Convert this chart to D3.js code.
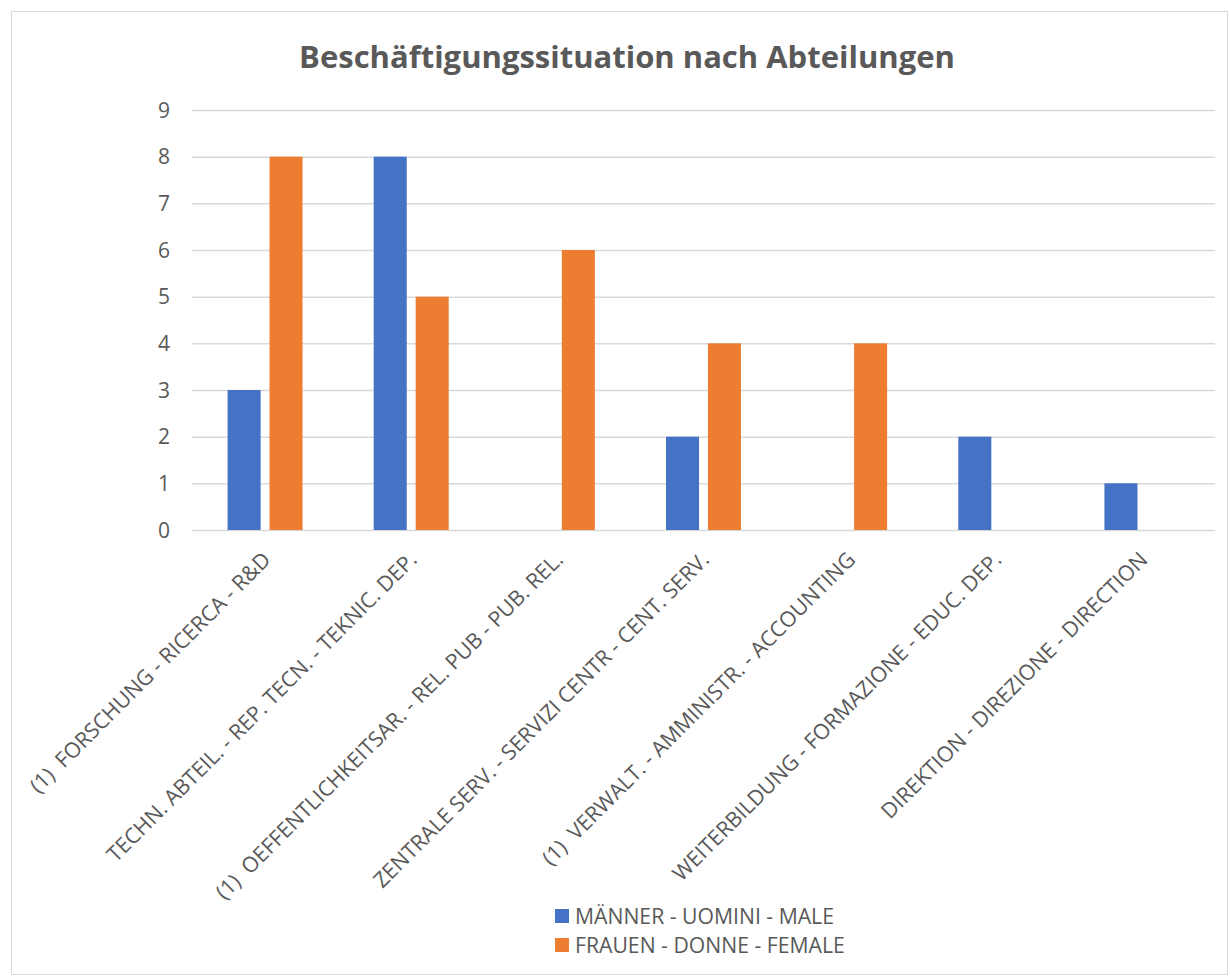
<!DOCTYPE html>
<html>
<head>
<meta charset="utf-8">
<script src="https://cdn.jsdelivr.net/npm/d3@7"></script>
<style>
  body { margin: 0; background: #fff; }
  text { font-family: "Open Sans", "Noto Sans", sans-serif; fill: #595959; }
</style>
</head>
<body>
<svg id="chart" width="1230" height="976"></svg>
<script>
var categories = [
    "(1)  FORSCHUNG - RICERCA - R&D",
    "TECHN. ABTEIL. - REP. TECN. - TEKNIC. DEP.",
    "(1)  OEFFENTLICHKEITSAR. - REL. PUB - PUB. REL.",
    "ZENTRALE SERV. - SERVIZI CENTR - CENT. SERV.",
    "(1)  VERWALT. - AMMINISTR. - ACCOUNTING",
    "WEITERBILDUNG - FORMAZIONE - EDUC. DEP.",
    "DIREKTION - DIREZIONE - DIRECTION"
];
var seriesNames = ["MÄNNER - UOMINI - MALE", "FRAUEN - DONNE - FEMALE"];
var male = [3, 8, 0, 2, 0, 2, 1];
var female = [8, 5, 6, 4, 4, 0, 0];
var yTicks = [0, 1, 2, 3, 4, 5, 6, 7, 8, 9];
var colors = ["#4472c4", "#ed7d31"];

var svg = d3.select('#chart');

// outer frame
svg.append('rect')
    .attr('x', 11.5).attr('y', 11.5)
    .attr('width', 1216).attr('height', 963)
    .attr('fill', '#fff').attr('stroke', '#d9d9d9').attr('stroke-width', 1);

svg.append('text')
    .attr('x', 627).attr('y', 68)
    .attr('text-anchor', 'middle')
    .style('font-size', '31px').style('font-weight', 'bold')
    .text('Beschäftigungssituation nach Abteilungen');

var plotLeft = 192, plotRight = 1215, plotTop = 110, plotBottom = 530;

var x = d3.scaleBand().domain(d3.range(categories.length)).range([plotLeft, plotRight]);
var y = d3.scaleLinear().domain([0, 9]).range([plotBottom, plotTop]);

// gridlines
svg.append('g').selectAll('line').data(yTicks).enter().append('line')
    .attr('x1', plotLeft).attr('x2', plotRight)
    .attr('y1', function(d) { return y(d) + 0.5; })
    .attr('y2', function(d) { return y(d) + 0.5; })
    .attr('stroke', '#d9d9d9').attr('stroke-width', 1.5);

// y labels
svg.append('g').selectAll('text').data(yTicks).enter().append('text')
    .attr('x', 170)
    .attr('y', function(d) { return y(d); })
    .attr('dy', '0.36em')
    .attr('text-anchor', 'end')
    .style('font-size', '21px')
    .text(function(d) { return d; });

var barW = x.bandwidth() * 0.226;
var gap = barW * 0.27;

var rows = categories.map(function(c, i) { return { i: i, vals: [male[i], female[i]] }; });

var groups = svg.append('g').selectAll('g').data(rows).enter().append('g');
groups.selectAll('rect')
    .data(function(d) { return d.vals.map(function(v, s) { return { i: d.i, s: s, v: v }; }); })
    .enter().append('rect')
    .filter(function(d) { return d.v > 0; })
    .attr('x', function(d) {
        var c = x(d.i) + x.bandwidth() / 2;
        return d.s === 0 ? c - gap / 2 - barW : c + gap / 2;
    })
    .attr('y', function(d) { return y(d.v); })
    .attr('width', barW)
    .attr('height', function(d) { return y(0) - y(d.v); })
    .attr('fill', function(d) { return colors[d.s]; });

// category labels
svg.append('g').selectAll('text').data(categories).enter().append('text')
    .attr('transform', function(d, i) {
        return 'translate(' + (x(i) + x.bandwidth() / 2 + 7) + ',561) rotate(-45)';
    })
    .attr('text-anchor', 'end')
    .attr('xml:space', 'preserve')
    .style('white-space', 'pre')
    .style('font-size', '21.4px')
    .text(function(d) { return d; });

// legend
var legend = svg.append('g').selectAll('g').data(seriesNames).enter().append('g')
    .attr('transform', function(d, i) { return 'translate(555,' + (916 + i * 29) + ')'; });
legend.append('rect')
    .attr('x', 0).attr('y', -7).attr('width', 14).attr('height', 14)
    .attr('fill', function(d, i) { return colors[i]; });
legend.append('text')
    .attr('x', 20).attr('dy', '0.36em')
    .style('font-size', '21.2px')
    .text(function(d) { return d; });
</script>
</body>
</html>
